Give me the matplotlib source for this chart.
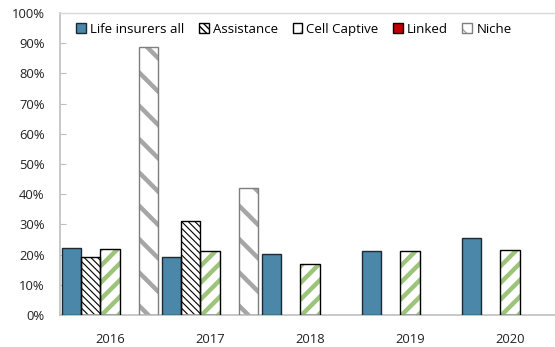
import numpy as np
import matplotlib
matplotlib.use("Agg")
import matplotlib.pyplot as plt
from matplotlib.patches import Patch

plt.rcParams['font.family'] = ['Open Sans', 'DejaVu Sans']

years = ['2016', '2017', '2018', '2019', '2020']
series_names = ['Life insurers all', 'Assistance', 'Cell Captive', 'Linked', 'Niche']
life = [22.1, 19.1, 20.1, 21.1, 25.6]
assistance = [19.1, 31.1, np.nan, np.nan, np.nan]
cell_captive = [22.0, 21.1, 17.0, 21.1, 21.5]
linked = [np.nan, np.nan, np.nan, np.nan, np.nan]
niche = [88.6, 42.2, np.nan, np.nan, np.nan]
y_ticks = list(range(0, 101, 10))

# (face, hatch, hatch colour, hatch width, outline colour)
styles = [
    ('#4A87A9', None, None, 0, '#1C2A33'),
    ('white', '\\\\\\\\\\', '#000000', 0.8, '#000000'),
    ('white', '//', '#9CC57B', 3.2, '#000000'),
    ('#C00000', None, None, 0, '#000000'),
    ('white', '\\', '#A6A6A6', 3.2, '#7F7F7F'),
]
values = [life, assistance, cell_captive, linked, niche]

fig = plt.figure(figsize=(5.55, 3.47), dpi=100)
ax = fig.add_axes([60 / 555, 1 - 315 / 347, 500 / 555, (315 - 13) / 347])

x = np.arange(len(years))
width = 0.193
handles = []
for i, (vals, (face, hatch, hcol, hlw, ecol)) in enumerate(zip(values, styles)):
    pos = x + (i - 2) * width
    if hatch:
        with plt.rc_context({'hatch.linewidth': hlw}):
            fill = ax.bar(pos, vals, width, color=face, edgecolor=hcol,
                          hatch=hatch, linewidth=0, zorder=2)
        for p in fill:
            if hasattr(p, 'set_hatch_linewidth'):
                p.set_hatch_linewidth(hlw)
        ax.bar(pos, vals, width, fill=False, edgecolor=ecol, linewidth=1.0, zorder=3)
        with plt.rc_context({'hatch.linewidth': hlw}):
            h1 = Patch(facecolor=face, edgecolor=hcol, hatch=hatch, linewidth=0)
        if hasattr(h1, 'set_hatch_linewidth'):
            h1.set_hatch_linewidth(hlw)
        h2 = Patch(fill=False, edgecolor=ecol, linewidth=1.0)
        handles.append((h1, h2))
    else:
        ax.bar(pos, vals, width, color=face, edgecolor=ecol, linewidth=1.0, zorder=3)
        handles.append(Patch(facecolor=face, edgecolor=ecol, linewidth=1.0))

ax.set_xlim(-0.5, 4.5)
ax.set_ylim(0, 100)
ax.set_yticks(y_ticks)
ax.set_yticklabels([f'{t}%' for t in y_ticks])
ax.set_xticks(x)
ax.set_xticklabels(years)

ax.tick_params(axis='y', direction='in', length=4, color='#BFBFBF',
               labelsize=9.4, pad=11, labelcolor='#222222')
ax.tick_params(axis='x', length=0, labelsize=9.4, pad=13, labelcolor='#222222')

for s in ['left', 'bottom']:
    ax.spines[s].set_color('#BFBFBF')
    ax.spines[s].set_linewidth(1.2)
ax.spines['top'].set_color('#D9D9D9')
ax.spines['top'].set_linewidth(1.0)
ax.spines['right'].set_visible(False)

ax.legend(handles, series_names, loc='center', bbox_to_anchor=(0.468, 0.946),
          ncol=5, frameon=False, fontsize=9.5, handlelength=0.75,
          handleheight=0.75, handletextpad=0.3, columnspacing=1.1,
          borderaxespad=0)

fig.savefig('out.png', dpi=100)
